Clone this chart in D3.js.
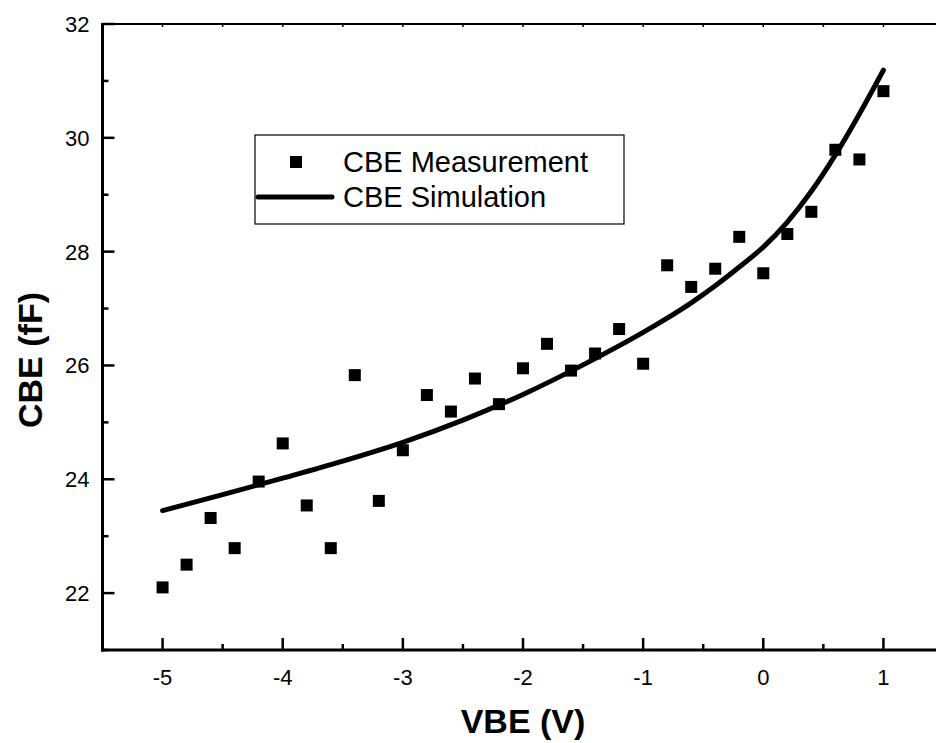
<!DOCTYPE html>
<html>
<head>
<meta charset="utf-8">
<script src="https://d3js.org/d3.v7.min.js"></script>
<style>
  body { margin: 0; background: #fff; }
  svg { display: block; font-family: "Liberation Sans", Arial, sans-serif; }
</style>
</head>
<body>
<div id="chart"></div>
<script>
// measured CBE points
const vbeMeas = [-5, -4.8, -4.6, -4.4, -4.2, -4.0, -3.8, -3.6, -3.4, -3.2, -3.0,
                 -2.8, -2.6, -2.4, -2.2, -2.0, -1.8, -1.6, -1.4, -1.2, -1.0,
                 -0.8, -0.6, -0.4, -0.2, 0.0, 0.2, 0.4, 0.6, 0.8, 1.0];
const cbeMeas = [22.10, 22.50, 23.32, 22.79, 23.96, 24.63, 23.54, 22.79, 25.83, 23.62, 24.51,
                 25.48, 25.19, 25.77, 25.32, 25.95, 26.38, 25.91, 26.21, 26.64, 26.03,
                 27.76, 27.38, 27.70, 28.26, 27.62, 28.31, 28.70, 29.79, 29.62, 30.82];

// simulated curve
const vbeSim = [-5, -4.5, -4, -3.5, -3, -2.5, -2, -1.5, -1, -0.8, -0.6, -0.4, -0.2, 0, 0.2, 0.4, 0.6, 0.8, 1];
const cbeSim = [23.45, 23.73, 24.02, 24.32, 24.65, 25.04, 25.49, 26.01, 26.58, 26.83, 27.10, 27.40, 27.73, 28.08, 28.52, 29.06, 29.70, 30.42, 31.19];

const xMajor = [-5, -4, -3, -2, -1, 0, 1];
const xMinor = [-5.5, -4.5, -3.5, -2.5, -1.5, -0.5, 0.5, 1.5];
const yMajor = [22, 24, 26, 28, 30, 32];
const yMinor = [21, 23, 25, 27, 29, 31];

const W = 936, H = 743;
const x = d3.scaleLinear().domain([-5.5, 1.5]).range([102.5, 943.5]);
const y = d3.scaleLinear().domain([21, 32]).range([650, 24]);

const svg = d3.select("#chart").append("svg")
  .attr("width", W).attr("height", H);

// frame: top line
svg.append("line")
  .attr("x1", x(-5.5)).attr("x2", W + 5)
  .attr("y1", y(32)).attr("y2", y(32))
  .attr("stroke", "#000").attr("stroke-width", 2);

// small ticks on the top edge
svg.selectAll("line.ttick")
  .data(xMajor.concat(xMinor))
  .enter().append("line")
  .attr("x1", d => x(d)).attr("x2", d => x(d))
  .attr("y1", y(32)).attr("y2", y(32) + 3)
  .attr("stroke", "#000").attr("stroke-width", 1.5);

// bottom axis
const xAxis = svg.append("g").attr("transform", `translate(0,${y(21)})`);
xAxis.append("line")
  .attr("x1", x(-5.5) - 1.5).attr("x2", W + 5)
  .attr("stroke", "#000").attr("stroke-width", 3);
xAxis.selectAll("line.maj").data(xMajor).enter().append("line")
  .attr("x1", d => x(d)).attr("x2", d => x(d))
  .attr("y1", 0).attr("y2", -12)
  .attr("stroke", "#000").attr("stroke-width", 2.5);
xAxis.selectAll("line.min").data(xMinor).enter().append("line")
  .attr("x1", d => x(d)).attr("x2", d => x(d))
  .attr("y1", 0).attr("y2", -6)
  .attr("stroke", "#000").attr("stroke-width", 2.5);
xAxis.selectAll("text").data(xMajor).enter().append("text")
  .attr("x", d => x(d)).attr("y", 35)
  .attr("text-anchor", "middle")
  .attr("font-size", 22)
  .text(d => d);

// left axis
const yAxis = svg.append("g").attr("transform", `translate(${x(-5.5)},0)`);
yAxis.append("line")
  .attr("y1", y(32) - 1).attr("y2", y(21) + 1.5)
  .attr("stroke", "#000").attr("stroke-width", 3);
yAxis.selectAll("line.maj").data(yMajor).enter().append("line")
  .attr("y1", d => y(d)).attr("y2", d => y(d))
  .attr("x1", 0).attr("x2", 12)
  .attr("stroke", "#000").attr("stroke-width", 2.5);
yAxis.selectAll("line.min").data(yMinor).enter().append("line")
  .attr("y1", d => y(d)).attr("y2", d => y(d))
  .attr("x1", 0).attr("x2", 6)
  .attr("stroke", "#000").attr("stroke-width", 2.5);
yAxis.selectAll("text").data(yMajor).enter().append("text")
  .attr("x", -13).attr("y", d => y(d))
  .attr("dy", "0.36em")
  .attr("text-anchor", "end")
  .attr("font-size", 22)
  .text(d => d);

// axis titles
svg.append("text")
  .attr("x", (x(-5.5) + x(1.5)) / 2).attr("y", 733)
  .attr("text-anchor", "middle")
  .attr("font-size", 34).attr("font-weight", "bold")
  .text("VBE (V)");
svg.append("text")
  .attr("transform", "translate(42,360) rotate(-90)")
  .attr("text-anchor", "middle")
  .attr("font-size", 34).attr("font-weight", "bold")
  .text("CBE (fF)");

// simulation curve
const simData = vbeSim.map((v, i) => [v, cbeSim[i]]);
svg.append("path")
  .datum(simData)
  .attr("fill", "none")
  .attr("stroke", "#000")
  .attr("stroke-width", 5)
  .attr("stroke-linecap", "round")
  .attr("d", d3.line().x(d => x(d[0])).y(d => y(d[1])).curve(d3.curveMonotoneX));

// measurement squares
const sq = 12;
svg.selectAll("rect.meas")
  .data(vbeMeas.map((v, i) => [v, cbeMeas[i]]))
  .enter().append("rect")
  .attr("x", d => x(d[0]) - sq / 2)
  .attr("y", d => y(d[1]) - sq / 2)
  .attr("width", sq).attr("height", sq)
  .attr("fill", "#000");

// legend
const lg = svg.append("g");
lg.append("rect")
  .attr("x", 255).attr("y", 135).attr("width", 369).attr("height", 89)
  .attr("fill", "#fff").attr("stroke", "#000").attr("stroke-width", 1.2);
lg.append("rect")
  .attr("x", 290).attr("y", 156).attr("width", sq).attr("height", sq)
  .attr("fill", "#000");
lg.append("line")
  .attr("x1", 258).attr("x2", 332).attr("y1", 197).attr("y2", 197)
  .attr("stroke", "#000").attr("stroke-width", 5).attr("stroke-linecap", "round");
lg.append("text")
  .attr("x", 343).attr("y", 172).attr("font-size", 29)
  .text("CBE Measurement");
lg.append("text")
  .attr("x", 343).attr("y", 207).attr("font-size", 29)
  .text("CBE Simulation");
</script>
</body>
</html>
